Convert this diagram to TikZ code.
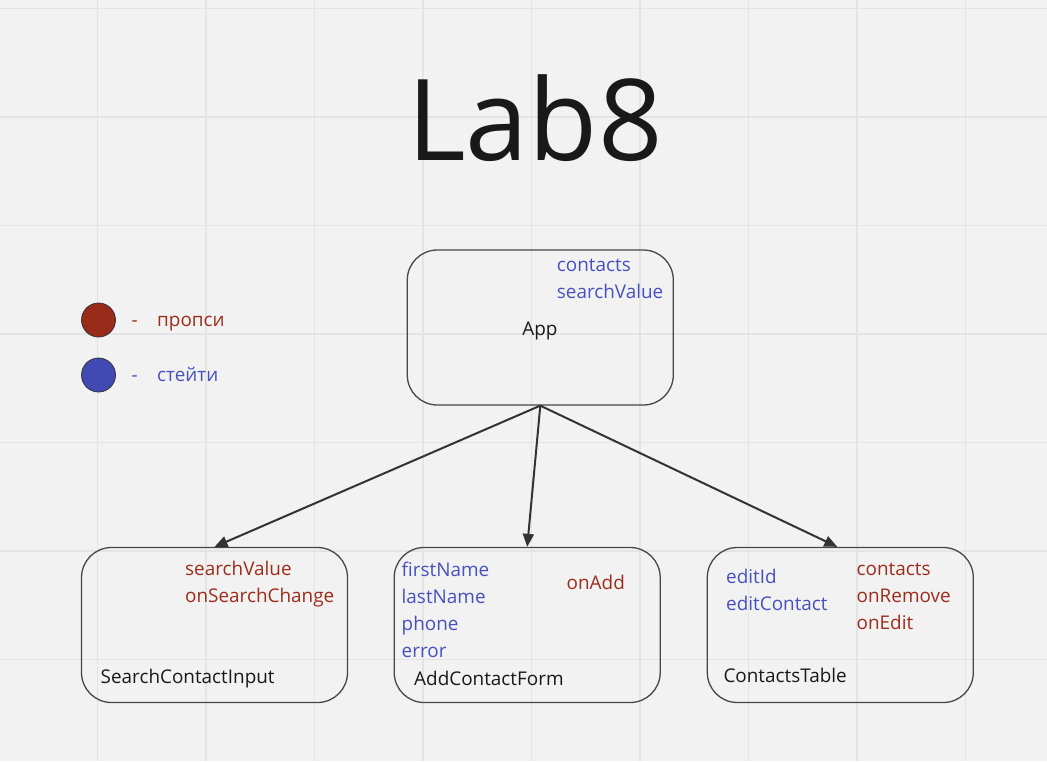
\documentclass[tikz,border=0pt]{standalone}
\usepackage{fontspec}
\setmainfont{Open Sans}
\usepackage{tikz}
\usetikzlibrary{arrows.meta,positioning}
\definecolor{boardBg}{RGB}{242,242,242}
\definecolor{boardGrid}{RGB}{228,228,228}
\definecolor{propRed}{RGB}{158,44,28}
\definecolor{propDot}{RGB}{152,43,26}
\definecolor{stateBlue}{RGB}{72,80,192}
\definecolor{stateDot}{RGB}{64,74,178}
\definecolor{lineDark}{RGB}{51,51,51}
\tikzset{
  comp/.style={draw=lineDark!90,line width=1.3pt,rounded corners=30pt,
    minimum width=266pt,minimum height=155pt,inner sep=0pt},
  txt/.style={anchor=base west,inner sep=0pt,font=\fontsize{18.9}{27}\selectfont},
  propTxt/.style={txt,text=propRed},
  stateTxt/.style={txt,text=stateBlue},
  nameTxt/.style={txt,text=black!90},
  dot/.style={circle,draw=black!80,line width=0.8pt,minimum size=34pt,inner sep=0pt},
  flow/.style={draw=lineDark,line width=2pt,-{Triangle[length=13pt,width=11pt]}}
}

\begin{document}
\begin{tikzpicture}[x=1pt,y=-1pt]
          % board with grid
          \fill[boardBg] (0,0) rectangle (1047,761);
          \useasboundingbox (0,0) rectangle (1047,761);
          \foreach \k in {1,...,9}
            \draw[boardGrid,line width=1.6pt] (-11+108.5*\k,0) -- (-11+108.5*\k,761);
          \foreach \k in {0,...,6}
            \draw[boardGrid,line width=1.6pt] (0,8.3+108.5*\k) -- (1047,8.3+108.5*\k);
          % title
          \node[anchor=base,inner sep=0pt,text=black!90,font=\fontsize{113}{113}\selectfont] (title) at (535,160.5) {Lab8};
          % legend
          \node[dot,fill=propDot] (propDotA) at (98.5,320) {};
          \node[txt,text=propRed] (propDash) at (131.5,326) {-};
          \node[propTxt] (propLbl) at (157,326) {пропси};
          \node[dot,fill=stateDot] (stateDotA) at (98.5,375) {};
          \node[txt,text=stateBlue] (stateDash) at (131.5,381.5) {-};
          \node[stateTxt] (stateLbl) at (157,381.5) {стейти};
          % components
          \node[comp] (app) at (540.3,327.5) {};
          \node[comp] (search) at (214.5,625) {};
          \node[comp] (addform) at (527.2,625) {};
          \node[comp] (table) at (840.3,625) {};
          % App
          \node[stateTxt] (appContacts) at (556.7,271) {contacts};
          \node[stateTxt] (appSearch) at (556.7,298.3) {searchValue};
          \node[nameTxt,anchor=base] (appName) at (540,335) {App};
          % SearchContactInput
          \node[propTxt] (srchValue) at (185,575) {searchValue};
          \node[propTxt] (srchChange) at (185,602.7) {onSearchChange};
          \node[nameTxt] (srchName) at (100.5,683.3) {SearchContactInput};
          % AddContactForm
          \node[stateTxt] (addFirst) at (401.5,576) {firstName};
          \node[stateTxt] (addLast) at (401.5,603.3) {lastName};
          \node[stateTxt] (addPhone) at (401.5,630.7) {phone};
          \node[stateTxt] (addError) at (401.5,657.7) {error};
          \node[propTxt] (addOnAdd) at (566.5,589) {onAdd};
          \node[nameTxt] (addName) at (414,685) {AddContactForm};
          % ContactsTable
          \node[stateTxt] (tblEditId) at (726,583.3) {editId};
          \node[stateTxt] (tblEditContact) at (726,610) {editContact};
          \node[propTxt] (tblContacts) at (856.5,575) {contacts};
          \node[propTxt] (tblRemove) at (856.5,602.7) {onRemove};
          \node[propTxt] (tblEdit) at (856.5,629.3) {onEdit};
          \node[nameTxt] (tblName) at (723.3,682.7) {ContactsTable};
          % props flow
          \draw[flow] (app.south) -- (search.north);
          \draw[flow] (app.south) -- (addform.north);
          \draw[flow] (app.south) -- ([xshift=-3pt]table.north);
        \end{tikzpicture}
\end{document}
